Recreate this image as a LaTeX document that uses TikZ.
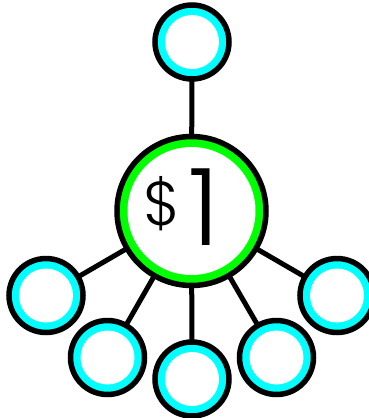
\documentclass[tikz,border=0pt]{standalone}
\usepackage{fontspec}
\newfontfamily\pricefont{Poppins Light}
\usepackage{tikz}
\usetikzlibrary{calc}
\usetikzlibrary{positioning}

\definecolor{leafcyan}{RGB}{0,255,255}
\definecolor{hubgreen}{RGB}{0,255,0}

\tikzset{
    leaf/.style={draw=black, line width=5.5pt, circle, fill=leafcyan, minimum size=74pt, inner sep=0pt, outer sep=0pt,
        path picture={\fill[white] (path picture bounding box.center) circle (27pt);}},
    hub/.style={draw=black, line width=5.5pt, circle, fill=hubgreen, minimum size=149pt, inner sep=0pt, outer sep=0pt,
        path picture={\fill[white] (path picture bounding box.center) circle (64pt);}},
    link/.style={line width=5pt, black}
}

\begin{document}
\begin{tikzpicture}[x=1pt, y=-1pt]

        \useasboundingbox (0,0) rectangle (369,418);

        % Central price node
        \node [hub] (hub) at (191.5,211) {};
        \node [anchor=base, inner sep=0pt] (dollar) at (162,225) {\pricefont\fontsize{62}{62}\selectfont \$};
        \node [anchor=base, inner sep=0pt] (one) at (204.5,245) {\pricefont\fontsize{107}{107}\selectfont 1};

        % Top node
        \node [leaf] (top) at (192,42) {};
        \draw [link] (hub) -- (top);

        % Lower fan of nodes
        \foreach \i/\x/\y in {1/46/295.5, 2/107.5/357.5, 3/192/379, 4/276.5/357.5, 5/337/295.5} {
            \node [leaf] (leaf\i) at (\x,\y) {};
            \draw [link] (hub) -- (leaf\i);
        }

\end{tikzpicture}
\end{document}
